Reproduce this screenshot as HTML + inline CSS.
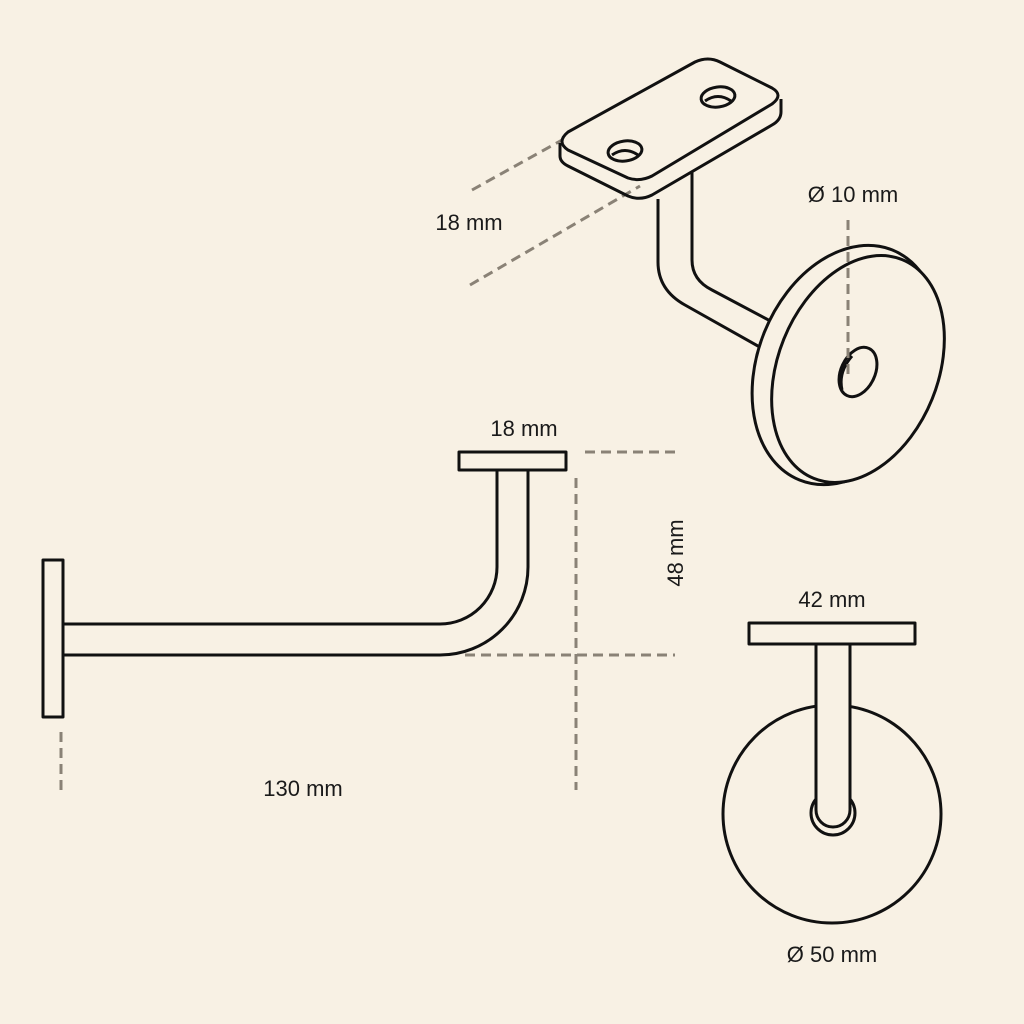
<!DOCTYPE html>
<html><head><style>
html,body{margin:0;padding:0;background:#f8f1e4;}
svg{display:block;}
text{font-family:"Liberation Sans",sans-serif;font-size:22px;fill:#1a1a1a;}
</style></head><body>
<svg width="1024" height="1024" viewBox="0 0 1024 1024">
<rect width="1024" height="1024" fill="#f8f1e4"/>
<g stroke="#8a8276" stroke-width="3" stroke-dasharray="10,6" fill="none">
<line x1="472" y1="190" x2="562" y2="140"/>
<line x1="470" y1="285" x2="640" y2="186"/>
<line x1="585" y1="452" x2="675" y2="452"/>
<line x1="576" y1="478" x2="576" y2="790"/>
<line x1="465" y1="655" x2="675" y2="655"/>
<line x1="61" y1="732" x2="61" y2="790"/>
</g>
<g stroke="#111" stroke-width="3" fill="none" stroke-linejoin="round">
<!-- iso plate -->
<path d="M560,143 L560,156 Q560,162 568,166 L628,196 Q640,201 652,195 L772,125 Q781,120 781,112 L781,99" />
<path d="M568,132 L695,62 Q708,56 720,62 L772,88 Q784,95 772,104 L652,176 Q640,182 628,178 L568,150 Q556,142 568,132 Z" fill="#f8f1e4"/>
<ellipse cx="625" cy="151" rx="17" ry="10" transform="rotate(-8 625 151)"/>
<path d="M612,155 Q625,146 638,155"/>
<ellipse cx="718" cy="97" rx="17" ry="10" transform="rotate(-8 718 97)"/>
<path d="M705,101 Q718,92 731,101"/>
<!-- stem -->
<path d="M658,199 L658,262 Q658,290 685,305 L765,350"/>
<path d="M692,172 L692,260 Q692,280 712,290 L778,325"/>
<!-- disc -->
<ellipse cx="846" cy="365" rx="88" ry="124" transform="rotate(22 846 365)" fill="#f8f1e4"/>
<ellipse cx="858" cy="369" rx="80" ry="118" transform="rotate(22 858 369)" fill="#f8f1e4"/>
<ellipse cx="858" cy="372" rx="17" ry="26" transform="rotate(25 858 372)"/>
<path d="M842,390 Q838,372 852,356" />
<!-- side view -->
<rect x="43" y="560" width="20" height="157" fill="#f8f1e4"/>
<path d="M63,624 L440,624 A57,57 0 0 0 497,567 L497,470"/>
<path d="M63,655 L440,655 A88,88 0 0 0 528,567 L528,470"/>
<rect x="459" y="452" width="107" height="18" fill="#f8f1e4"/>
<!-- front view -->
<circle cx="832" cy="814" r="109" fill="#f8f1e4"/>
<circle cx="833" cy="813" r="22"/>
<path d="M816,644 L816,810 A17,17 0 0 0 850,810 L850,644" fill="#f8f1e4"/>
<rect x="749" y="623" width="166" height="21" fill="#f8f1e4"/>
</g>
<g stroke="#8a8276" stroke-width="3" stroke-dasharray="10,6" fill="none">
<line x1="848" y1="220" x2="848" y2="375"/>
</g>
<text x="469" y="230" text-anchor="middle">18 mm</text>
<text x="853" y="202" text-anchor="middle">Ø 10 mm</text>
<text x="524" y="436" text-anchor="middle">18 mm</text>
<text transform="translate(683,553) rotate(-90)" text-anchor="middle">48 mm</text>
<text x="303" y="796" text-anchor="middle">130 mm</text>
<text x="832" y="607" text-anchor="middle">42 mm</text>
<text x="832" y="962" text-anchor="middle">Ø 50 mm</text>
</svg>
</body></html>
